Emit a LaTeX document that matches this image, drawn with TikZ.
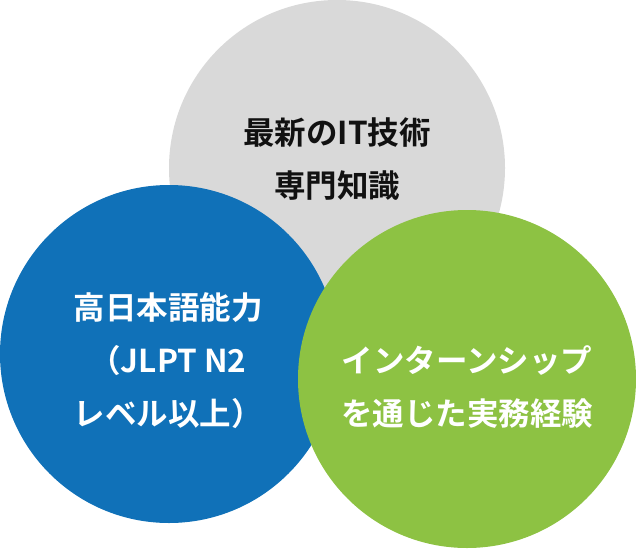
\documentclass[tikz,border=0pt]{standalone}
\usepackage{fontspec}
\setmainfont{Noto Sans CJK JP}[BoldFont={Noto Sans CJK JP Bold}]
\definecolor{cgray}{HTML}{D9D9D9}
\definecolor{cblue}{HTML}{1071B8}
\definecolor{cgreen}{HTML}{8DC243}
\definecolor{ctext}{HTML}{111111}
\tikzset{
  bubble/.style={circle, inner sep=0pt, minimum size=#1},
  label text/.style={align=center, font={\fontsize{31.5}{53}\selectfont\bfseries}, inner sep=0pt}
}
\begin{document}
\begin{tikzpicture}[x=1pt,y=-1pt]
\useasboundingbox (0,0) rectangle (636,548);
\node[bubble=336pt, fill=cgray] (gray) at (337,168) {};
\node[bubble=338pt, fill=cblue] (blue) at (169,354) {};
\node[bubble=338pt, fill=cgreen] (green) at (467,379) {};
\node[label text, text=ctext] (tgray) at (337,159) {最新のIT技術\\専門知識};
\node[label text, text=white] (tblue) at (168,361) {高日本語能力\\（JLPT N2\\レベル以上）};
\node[label text, text=white] (tgreen) at (467,387) {インターンシップ\\を通じた実務経験};
\end{tikzpicture}
\end{document}
